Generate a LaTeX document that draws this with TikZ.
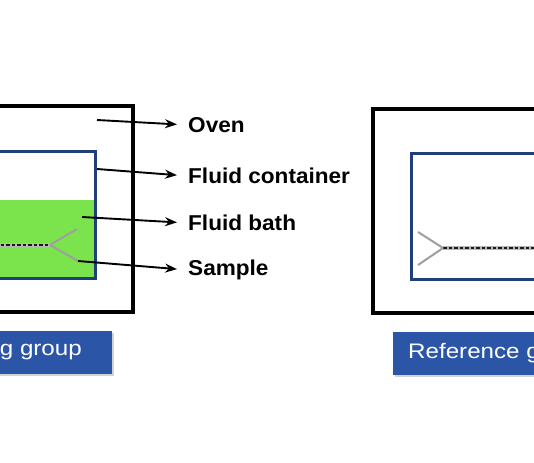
\documentclass[tikz,border=0pt]{standalone}
\usepackage{fontspec}
\setmainfont{Liberation Sans}
\newfontfamily\btnfont[FakeStretch=1.15]{Liberation Sans}
\newfontfamily\tagfont[FakeStretch=1.05]{Liberation Sans}
\usetikzlibrary{positioning, arrows.meta, shadows}
\definecolor{boxblue}{HTML}{1F3F7A}
\definecolor{bathgreen}{HTML}{7BE34C}
\definecolor{btnblue}{HTML}{2B55A6}

\begin{document}
\begin{tikzpicture}[
      x=1pt, y=-1pt,
      oven/.style={draw=black, line width=3.2pt},
      container/.style={draw=boxblue, line width=3pt},
      sample/.style={draw=gray!55, line width=3.4pt,
                     postaction={draw=black!90, line width=1.6pt, dash pattern=on 3.5pt off 2pt}},
      arm/.style={draw=gray!75, line width=2pt},
      tag/.style={anchor=west, inner sep=0pt, font=\tagfont\fontsize{21.5}{24}\selectfont\bfseries},
      pointer/.style={-{Stealth[length=12pt, width=9pt]}, line width=1.9pt, shorten >=11pt},
      button/.style={fill=btnblue, text=white, minimum height=43pt, inner ysep=0pt,
                     font=\btnfont\fontsize{21}{24}\selectfont,
                     drop shadow={opacity=0.35, shadow xshift=2pt, shadow yshift=-2pt}},
    ]
    \clip (0,0) rectangle (534,462);
    \fill[white] (0,0) rectangle (534,462);

    % left setup: oven, container with bath, sample
    \fill[bathgreen] (-60,200) rectangle (94,277);
    \draw[container] (-60,152) rectangle (95,278);
    \draw[oven] (-110,106) rectangle (133,312);
    \coordinate (lfork) at (50,245);
    \coordinate (ltipA) at (77,229);
    \coordinate (ltipB) at (78,261);
    \draw[sample] (-5,245) -- (lfork);
    \draw[arm] (lfork) -- (ltipA);
    \draw[arm] (lfork) -- (ltipB);

    % labels
    \node[tag] (oven)  at (188,125) {Oven};
    \node[tag] (cont)  at (188,176) {Fluid container};
    \node[tag] (bath)  at (188,223) {Fluid bath};
    \node[tag] (samp)  at (188,270) {Sample};

    \coordinate (ovenpt) at (97,120);
    \coordinate (contpt) at (97,169);
    \coordinate (bathpt) at (82,217);
    \draw[pointer] (ovenpt) -- (oven.west);
    \draw[pointer] (contpt) -- (cont.west);
    \draw[pointer] (bathpt) -- (bath.west);
    \draw[pointer] (ltipB) -- (samp.west);

    % right setup
    \draw[oven] (373,109) rectangle (600,313);
    \draw[container] (411,154) rectangle (600,279);
    \coordinate (rfork) at (443,248);
    \draw[sample] (rfork) -- (545,248);
    \draw[arm] (rfork) -- (418,232);
    \draw[arm] (rfork) -- (418,265);

    % group buttons
    \node[button, anchor=east, inner xsep=30pt] (lbtn) at (112,352) {g group};
    \node[button, anchor=west, inner xsep=15pt] (rbtn) at (393,353) {Reference g};
  \end{tikzpicture}
\end{document}
